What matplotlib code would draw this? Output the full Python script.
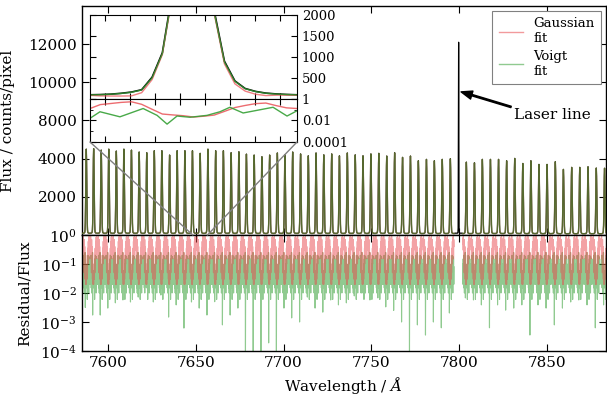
import numpy as np
import matplotlib
matplotlib.use('Agg')
import matplotlib.pyplot as plt
from matplotlib.patches import ConnectionPatch

plt.rcParams['font.family'] = ['DejaVu Serif']
plt.rcParams['mathtext.fontset'] = 'dejavuserif'

# ---------------- data ----------------
peak_centres = [7587.8, 7592.0, 7596.3, 7600.6, 7604.9, 7609.2, 7613.5, 7617.9,
                7622.2, 7626.5, 7630.8, 7635.2, 7639.5, 7643.9, 7648.2, 7652.6,
                7657.0, 7661.4, 7665.8, 7670.2, 7674.6, 7678.9, 7683.3, 7687.7,
                7692.1, 7696.5, 7700.8, 7705.2, 7709.7, 7714.1, 7718.5, 7722.9,
                7727.4, 7731.8, 7736.3, 7740.8, 7745.2, 7749.7, 7754.2, 7758.7,
                7763.2, 7767.7, 7772.2, 7776.7, 7781.3, 7785.8, 7790.3, 7794.9,
                7799.6, 7804.0, 7808.6, 7813.1, 7817.7, 7822.3, 7826.9, 7831.5,
                7836.1, 7840.7, 7845.3, 7849.9, 7854.6, 7859.2, 7863.9, 7868.5,
                7873.2, 7877.9, 7882.6]
peak_heights = [4500, 4550, 4450, 4500, 4400, 4500, 4450, 4350,
                4310, 4415, 4415, 4190, 4415, 4415, 4415, 4280,
                4500, 4415, 4415, 4310, 4360, 4240, 4190, 4100,
                4190, 4300, 4200, 4350, 4250, 4150, 4300, 4200,
                4250, 4150, 4300, 4200, 4150, 4250, 4280, 4140,
                4310, 4070, 4140, 3890, 3965, 3890, 3965, 3995,
                12100, 3820, 3785, 3965, 3965, 3965, 3890, 4015,
                3750, 3890, 3700, 3700, 3840, 3440, 3545, 3545,
                3575, 3510, 3500]
laser_index = 48          # the laser line: no fit, masked residuals

# detector-pixel offsets (Angstrom) around each comb line
offsets = [-2.10, -1.96, -1.82, -1.68, -1.54, -1.40, -1.26, -1.12, -0.98, -0.84,
           -0.70, -0.56, -0.42, -0.28, -0.14, 0.0, 0.14, 0.28, 0.42, 0.56,
           0.70, 0.84, 0.98, 1.12, 1.26, 1.40, 1.54, 1.68, 1.82, 1.96, 2.10]
flux_profile = [0.02, 0.02, 0.02, 0.02, 0.021, 0.022, 0.023, 0.025, 0.028, 0.035,
                0.06, 0.14, 0.32, 0.60, 0.88, 1.0, 0.88, 0.60, 0.32, 0.14,
                0.06, 0.035, 0.028, 0.025, 0.023, 0.022, 0.021, 0.02, 0.02, 0.02, 0.02]
laser_profile = [0.008, 0.008, 0.008, 0.008, 0.008, 0.008, 0.008, 0.008, 0.008, 0.008,
                 0.008, 0.008, 0.01, 0.03, 0.4, 1.0, 0.4, 0.03, 0.01, 0.008,
                 0.008, 0.008, 0.008, 0.008, 0.008, 0.008, 0.008, 0.008, 0.008, 0.008, 0.008]
gauss_resid = [0.50, 0.80, 0.30, 0.90, 0.15, 0.60, 0.05, 0.70, 0.10, 0.40,
               0.03, 0.25, 0.02, 0.10, 0.03, 0.02, 0.04, 0.08, 0.03, 0.20,
               0.05, 0.35, 0.10, 0.60, 0.20, 0.85, 0.30, 0.90, 0.15, 0.70, 0.40]
voigt_resid = [0.10, 0.02, 0.15, 0.04, 0.20, 0.015, 0.08, 0.01, 0.12, 0.03,
               0.25, 0.008, 0.06, 0.02, 0.04, 0.015, 0.05, 0.02, 0.10, 0.006,
               0.15, 0.03, 0.20, 0.015, 0.12, 0.01, 0.18, 0.04, 0.15, 0.02, 0.08]
dip_sample = 11
# deepest Voigt residual per comb line (log10)
voigt_dip = [-2.5, -2.76, -2.76, -2.52, -2.34, -2.24, -2.31, -2.14,
             -1.79, -2.31, -2.07, -2.83, -2.41, -3.21, -2.31, -2.52,
             -2.76, -2.3, -3.10, -2.76, -2.52, -4.2, -4.2, -4.2,
             -3.72, -4.2, -2.52, -2.86, -3.0, -2.14, -2.52, -2.66,
             -2.24, -2.41, -2.34, -2.1, -2.0, -2.24, -2.17, -2.48,
             -2.6, -3.0, -4.2, -3.1, -3.45, -3.0, -3.2, -2.69,
             np.nan, -2.17, -2.24, -2.41, -3.2, -2.41, -2.59, -2.52,
             -2.41, -3.45, -2.41, -2.52, -3.1, -2.52, -2.31, -2.24,
             -2.41, -3.2, -2.41]

inset_wl = [7648.40, 7648.81, 7649.23, 7649.64, 7650.06, 7650.47, 7650.89,
            7651.30, 7651.72, 7652.13, 7652.55, 7652.96, 7653.38, 7653.79,
            7654.21, 7654.62, 7655.04, 7655.45, 7655.87, 7656.28, 7656.70]
inset_flux = [100, 105, 115, 135, 165, 220, 520, 1100, 2600, 4000, 4400,
              3600, 2100, 900, 430, 250, 180, 140, 120, 108, 100]
inset_gauss_fit = [87, 74, 71, 70, 74, 150, 463, 1056, 2514, 3888, 4308,
                   3510, 2033, 837, 361, 188, 113, 81, 91, 92, 87]
inset_voigt_fit = [98, 103, 113, 132, 160, 215, 505, 1080, 2560, 3950, 4380,
                   3560, 2060, 880, 420, 245, 176, 137, 118, 106, 98]
inset_gauss_res = [0.13, 0.30, 0.38, 0.48, 0.55, 0.32, 0.11, 0.04, 0.033, 0.028,
                   0.021, 0.025, 0.032, 0.07, 0.16, 0.25, 0.37, 0.42, 0.24, 0.15, 0.13]
inset_voigt_wl = [7648.40, 7648.80, 7649.60, 7650.53, 7651.09, 7651.49, 7651.89,
                  7652.41, 7653.09, 7653.61, 7654.01, 7654.54, 7655.74, 7656.30, 7656.70]
inset_voigt_res = [0.016, 0.065, 0.022, 0.13, 0.03, 0.0046, 0.026, 0.02, 0.03,
                   0.065, 0.17, 0.05, 0.17, 0.026, 0.08]

xticks = [7600, 7650, 7700, 7750, 7800, 7850]
flux_ticks = [2000, 4000, 8000, 10000, 12000]
resid_ticks = [1e-4, 1e-3, 1e-2, 1e-1, 1e0]

# ---------------- build the sampled series ----------------
wl, flux, gfit, vfit, gres, vres = [], [], [], [], [], []
for i, (c, h) in enumerate(zip(peak_centres, peak_heights)):
    prof = laser_profile if i == laser_index else flux_profile
    for k, (o, p) in enumerate(zip(offsets, prof)):
        f = h * p
        wl.append(c + o)
        flux.append(f)
        if i == laser_index:
            gfit.append(np.nan); vfit.append(np.nan)
            gres.append(np.nan); vres.append(np.nan)
        else:
            rg = gauss_resid[k]
            rv = 10 ** voigt_dip[i] if k == dip_sample else voigt_resid[k]
            gfit.append(f * (1 - 0.1 * rg)); vfit.append(f * (1 - 0.1 * rv))
            gres.append(rg); vres.append(rv)
wl = np.array(wl); flux = np.array(flux)
gfit = np.array(gfit); vfit = np.array(vfit)
gres = np.array(gres); vres = np.array(vres)

RED = '#e8474c'
GREEN = '#35a035'


def fwd(f):
    f = np.asarray(f, float)
    return np.where(f <= 4500, f, np.where(f < 8000, 4500 + (f - 4500) * (1500 / 3500), f - 2000))


def inv(g):
    g = np.asarray(g, float)
    return np.where(g <= 4500, g, np.where(g < 6000, 4500 + (g - 4500) * (3500 / 1500), g + 2000))


fig = plt.figure(figsize=(6.07, 3.99), dpi=100)
L, R = 0.1346, 0.998
ax1 = fig.add_axes([L, 0.411, R - L, 0.985 - 0.411])
ax2 = fig.add_axes([L, 0.1203, R - L, 0.411 - 0.1203], sharex=ax1)

ax1.plot(wl, flux, color='black', lw=0.9, zorder=3)
ax1.plot(wl, gfit, color=RED, lw=1.0, alpha=0.55, zorder=4, label='Gaussian\nfit')
ax1.plot(wl, vfit, color=GREEN, lw=1.0, alpha=0.55, zorder=5, label='Voigt\nfit')
ax1.set_yscale('function', functions=(fwd, inv))
ax1.set_ylim(0, 14000)
ax1.set_yticks(flux_ticks)
ax1.set_xlim(7585.2, 7883.3)
ax1.set_ylabel('Flux / counts/pixel', fontsize=11)
ax1.yaxis.set_label_coords(-0.127, 0.5)
ax1.tick_params(labelbottom=False)

ax2.plot(wl, vres, color=GREEN, lw=0.8, alpha=0.55)
ax2.plot(wl, gres, color=RED, lw=0.8, alpha=0.5)
ax2.set_yscale('log')
ax2.set_ylim(1e-4, 1)
ax2.set_yticks(resid_ticks)
ax2.set_xticks(xticks)
ax2.set_ylabel('Residual/Flux', fontsize=11)
ax2.yaxis.set_label_coords(-0.095, 0.5)
ax2.set_xlabel(r'Wavelength / $\AA$', fontsize=11)

for ax in (ax1, ax2):
    ax.tick_params(direction='in', top=True, right=True, labelsize=11, length=5)
    ax.tick_params(which='minor', direction='in', top=True, right=True, length=2.5)
    for s in ax.spines.values():
        s.set_linewidth(1.0)

leg = ax1.legend(loc='upper right', fontsize=9.5, handlelength=1.8, labelspacing=0.35,
                 borderaxespad=0.35, borderpad=0.5, fancybox=False, edgecolor='0.5',
                 framealpha=1)
leg.get_frame().set_linewidth(0.8)

ax1.annotate('Laser line', xy=(7801.0, 9500), xytext=(7831, 8300), fontsize=11,
             ha='left', va='center',
             arrowprops=dict(facecolor='black', edgecolor='black', width=1.0,
                             headwidth=6, headlength=8, shrink=0.0))

# ---------------- inset ----------------
ix0, ix1 = inset_wl[0], inset_wl[-1]
iL, iW = 0.1483, 0.341
ins1 = fig.add_axes([iL, 0.7519, iW, 0.9624 - 0.7519])
ins2 = fig.add_axes([iL, 0.6441, iW, 0.7519 - 0.6441], sharex=ins1)
ins1.plot(inset_wl, inset_flux, color='black', lw=1.2)
ins1.plot(inset_wl, inset_gauss_fit, color=RED, lw=1.0, alpha=0.7)
ins1.plot(inset_wl, inset_voigt_fit, color=GREEN, lw=1.0, alpha=0.8)
ins1.set_ylim(0, 2000)
ins1.set_yticks([0, 500, 1000, 1500, 2000])
ins1.set_yticklabels(['', '500', '1000', '1500', '2000'])
ins2.plot(inset_wl, inset_gauss_res, color=RED, lw=1.0, alpha=0.8)
ins2.plot(inset_voigt_wl, inset_voigt_res, color=GREEN, lw=1.0, alpha=0.9)
ins2.set_yscale('log')
ins2.set_ylim(1e-4, 1)
ins2.set_yticks([1e-4, 1e-2, 1])
ins2.set_yticklabels(['0.0001', '0.01', '1'])
ins2.set_yticks([1e-3, 1e-1], minor=True)
ins2.set_yticklabels(['', ''], minor=True)
ins1.set_xlim(ix0, ix1)
ins1.set_xticks([7649, 7650, 7651, 7652, 7653, 7654, 7655, 7656])
for ax in (ins1, ins2):
    ax.tick_params(which='both', direction='in', top=True, right=True, left=True,
                   labelleft=False, labelright=True, labelbottom=False, labelsize=9.5, length=4)
    ax.tick_params(which='minor', length=2)

for xa, xb in ((0, ix0), (1, ix1)):
    con = ConnectionPatch(xyA=(xa, 0), coordsA=ins2.transAxes, xyB=(xb, 0),
                          coordsB=ax1.transData, color='0.5', lw=1.0, zorder=10)
    fig.add_artist(con)

fig.savefig('out.png', dpi=100)
